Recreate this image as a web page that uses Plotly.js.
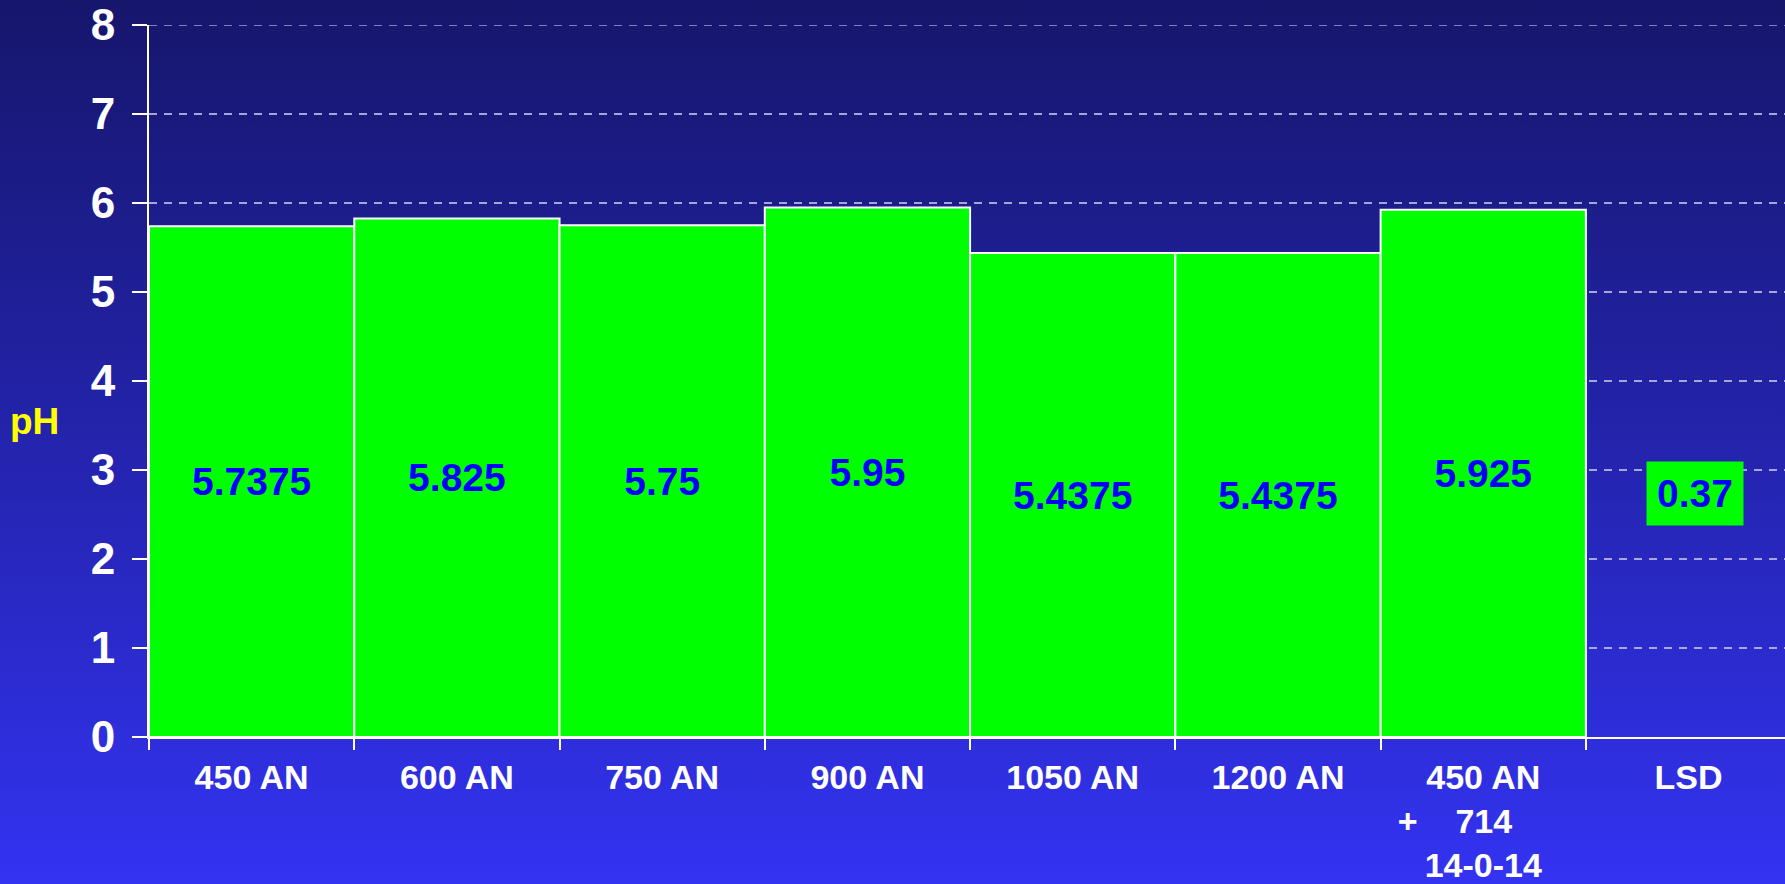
<!DOCTYPE html>
<html>
<head>
<meta charset="utf-8">
<script src="https://cdn.plot.ly/plotly-3.0.1.min.js"></script>
<style>
  html, body { margin: 0; padding: 0; width: 1785px; height: 884px; overflow: hidden;
    background: linear-gradient(to bottom, #16166c 0%, #2222a6 45%, #3333f2 100%); }
  #chart { width: 1785px; height: 884px; }
</style>
</head>
<body>
<div id="chart"></div>
<script>
const categories = ["450 AN", "600 AN", "750 AN", "900 AN", "1050 AN", "1200 AN",
  "450 AN<br>+\u00a0\u00a0\u00a0\u00a0714\u00a0\u00a0\u00a0\u00a0\u00a0\u00a0<br>14-0-14", "LSD"];
const phValues = [5.7375, 5.825, 5.75, 5.95, 5.4375, 5.4375, 5.925];
const phLabels = ["5.7375", "5.825", "5.75", "5.95", "5.4375", "5.4375", "5.925"];
const lsdCategory = "LSD";
const lsdValue = 0.37;
const yTicks = [0, 1, 2, 3, 4, 5, 6, 7, 8];
const yMax = 8;

const FONT = "Liberation Sans, Arial, sans-serif";
const GRID = "rgba(200,200,235,0.8)";

const trace = {
  type: "bar",
  x: categories.slice(0, phValues.length),
  y: phValues,
  text: phLabels,
  textposition: "inside",
  insidetextanchor: "middle",
  textangle: 0,
  constraintext: "none",
  textfont: { family: FONT, size: 39, color: "#0000ff", weight: "bold" },
  marker: { color: "#00ff00", line: { color: "#ffffff", width: 2 } },
  hoverinfo: "skip"
};

const layout = {
  width: 1785, height: 884,
  margin: { l: 149, r: 0, t: 25, b: 147 },
  paper_bgcolor: "rgba(0,0,0,0)",
  plot_bgcolor: "rgba(0,0,0,0)",
  bargap: 0,
  showlegend: false,
  font: { family: FONT, color: "#ffffff" },
  xaxis: {
    type: "category",
    categoryorder: "array",
    categoryarray: categories,
    range: [-0.5, 7.47],
    tickson: "boundaries",
    ticks: "outside", ticklen: 11, tickwidth: 2, tickcolor: "#ffffff",
    showline: true, linecolor: "#ffffff", linewidth: 2,
    showgrid: false, zeroline: false,
    tickfont: { family: FONT, size: 34, color: "#ffffff", weight: "bold" },
    ticklabelstandoff: 9
  },
  yaxis: {
    range: [0, yMax],
    tickvals: yTicks,
    ticks: "outside", ticklen: 15, tickwidth: 2, tickcolor: "#ffffff",
    showline: true, linecolor: "#ffffff", linewidth: 2,
    showgrid: true, gridcolor: GRID, gridwidth: 1.5, griddash: "8px,7px",
    zeroline: false,
    tickfont: { family: FONT, size: 44, color: "#ffffff", weight: "bold" },
    ticklabelstandoff: 8
  },
  shapes: [
    {
      type: "line", xref: "paper", yref: "y", x0: 0, x1: 1, y0: yMax, y1: yMax,
      line: { color: GRID, width: 1.5, dash: "8px,7px" }, layer: "below"
    }
  ],
  annotations: [
    {
      xref: "x", yref: "y", x: lsdCategory, y: 2.74, xshift: 6,
      text: lsdValue.toFixed(2), showarrow: false,
      bgcolor: "#00ff00", borderpad: 10,
      font: { family: FONT, size: 39, color: "#0000ff", weight: "bold" }
    },
    {
      xref: "paper", yref: "y", x: -0.07, y: 3.55,
      text: "pH", showarrow: false, xanchor: "center",
      font: { family: FONT, size: 37, color: "#ffff00", weight: "bold" }
    }
  ]
};

Plotly.newPlot("chart", [trace], layout, { displayModeBar: false, staticPlot: true });
</script>
</body>
</html>
